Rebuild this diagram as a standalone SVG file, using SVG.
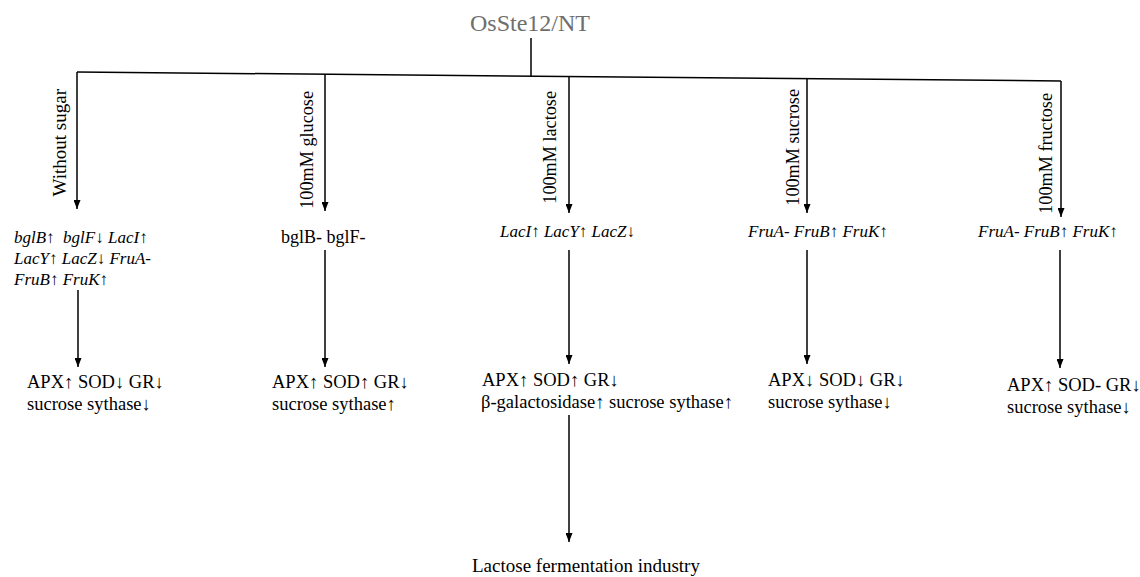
<svg xmlns="http://www.w3.org/2000/svg" width="1140" height="577" viewBox="0 0 1140 577">
<style>
.t{font-family:"Liberation Serif","Times New Roman",serif;fill:#000}
.title{font-size:24px;fill:#6e6e6e}
.lab{font-size:18.2px}
.gene{font-size:17px;font-style:italic}
.enz{font-size:18.5px}
.ln{stroke:#000;stroke-width:1.5;fill:none}
</style>
<defs>
<marker id="ah" viewBox="0 0 9 7" refX="9" refY="3.5" markerWidth="9" markerHeight="7" orient="auto" markerUnits="userSpaceOnUse">
<path d="M0,0 L9,3.5 L0,7 z" fill="#000"/>
</marker>
</defs>

<g id="connectors">
<line class="ln" x1="531" y1="38" x2="531" y2="76.5"/>
<line class="ln" x1="77" y1="72" x2="1061" y2="81"/>
<line class="ln" x1="77" y1="72" x2="77" y2="209" marker-end="url(#ah)"/>
<line class="ln" x1="325" y1="74.3" x2="325" y2="211" marker-end="url(#ah)"/>
<line class="ln" x1="569" y1="76.5" x2="569" y2="213" marker-end="url(#ah)"/>
<line class="ln" x1="807" y1="78.7" x2="807" y2="213" marker-end="url(#ah)"/>
<line class="ln" x1="1061" y1="81" x2="1061" y2="217" marker-end="url(#ah)"/>
<line class="ln" x1="78" y1="290" x2="78" y2="367" marker-end="url(#ah)"/>
<line class="ln" x1="325" y1="250" x2="325" y2="367" marker-end="url(#ah)"/>
<line class="ln" x1="569" y1="250" x2="569" y2="364" marker-end="url(#ah)"/>
<line class="ln" x1="569" y1="415" x2="569" y2="542" marker-end="url(#ah)"/>
<line class="ln" x1="807" y1="250" x2="807" y2="364" marker-end="url(#ah)"/>
<line class="ln" x1="1060" y1="250" x2="1060" y2="368" marker-end="url(#ah)"/>
</g>

<g id="root"><text class="t title" x="530" y="31" text-anchor="middle">OsSte12/NT</text></g>

<g id="labels">
<text class="t lab" style="font-size:19px" transform="translate(66,89) rotate(-90)" text-anchor="end">Without sugar</text>
<text class="t lab" transform="translate(313,91) rotate(-90)" text-anchor="end">100mM glucose</text>
<text class="t lab" transform="translate(556,91) rotate(-90)" text-anchor="end">100mM lactose</text>
<text class="t lab" transform="translate(799,89) rotate(-90)" text-anchor="end">100mM sucrose</text>
<text class="t lab" transform="translate(1052,93) rotate(-90)" text-anchor="end">100mM fructose</text>
</g>

<g id="genes-nosugar">
<text class="t gene" x="14" y="243" xml:space="preserve">bglB↑  bglF↓ LacI↑</text>
<text class="t gene" x="14" y="264">LacY↑ LacZ↓ FruA-</text>
<text class="t gene" x="14" y="285">FruB↑ FruK↑</text>
</g>
<g id="genes-glucose"><text class="t enz" style="font-size:18px" x="281" y="243">bglB- bglF-</text></g>
<g id="genes-lactose"><text class="t gene" x="500" y="237">LacI↑ LacY↑ LacZ↓</text></g>
<g id="genes-sucrose"><text class="t gene" x="748" y="237">FruA- FruB↑ FruK↑</text></g>
<g id="genes-fructose"><text class="t gene" x="978" y="237">FruA- FruB↑ FruK↑</text></g>

<g id="enz-nosugar">
<text class="t enz" x="27" y="388">APX↑ SOD↓ GR↓</text>
<text class="t enz" x="27" y="410">sucrose sythase↓</text>
</g>
<g id="enz-glucose">
<text class="t enz" x="272" y="388">APX↑ SOD↑ GR↓</text>
<text class="t enz" x="272" y="410">sucrose sythase↑</text>
</g>
<g id="enz-lactose">
<text class="t enz" x="482" y="386">APX↑ SOD↑ GR↓</text>
<text class="t enz" x="481" y="408">β-galactosidase↑ sucrose sythase↑</text>
</g>
<g id="enz-sucrose">
<text class="t enz" x="768" y="386">APX↓ SOD↓ GR↓</text>
<text class="t enz" x="768" y="408">sucrose sythase↓</text>
</g>
<g id="enz-fructose">
<text class="t enz" x="1007" y="391">APX↑ SOD- GR↓</text>
<text class="t enz" x="1007" y="413">sucrose sythase↓</text>
</g>
<g id="industry"><text class="t" style="font-size:19px" x="472" y="572">Lactose fermentation industry</text></g>
</svg>
